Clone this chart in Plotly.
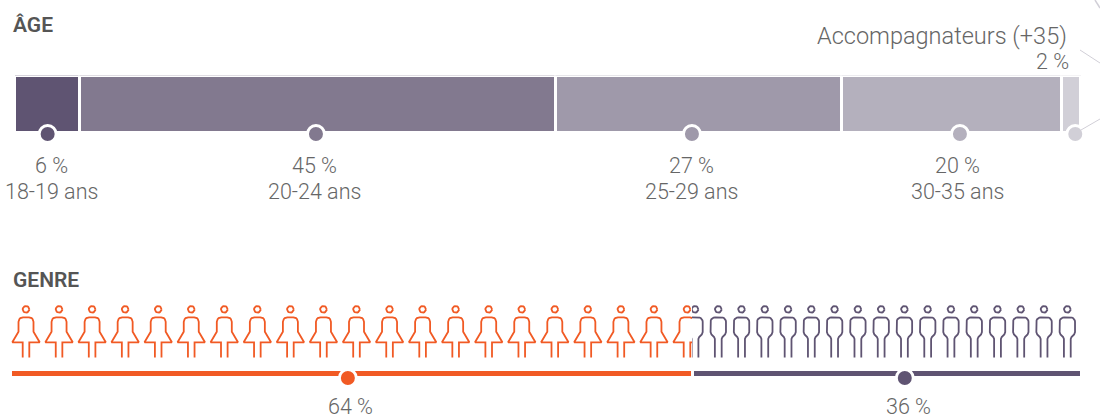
import math
import plotly.graph_objects as go

W, H = 1100, 419

# ---- data ----
age_groups = ["18-19 ans", "20-24 ans", "25-29 ans", "30-35 ans", "Accompagnateurs (+35)"]
age_labels = ["6 %", "45 %", "27 %", "20 %", "2 %"]
age_drawn_share = [6.1, 44.7, 26.83, 20.64, 1.74]
age_marker_share = [3.11, 28.28, 63.55, 88.69, 99.51]
age_colors = ["#5f5472", "#82798f", "#9f99aa", "#b4b0bd", "#d1cfd7"]

gender_groups = ["Femmes", "Hommes"]
gender_labels = ["64 %", "36 %"]
gender_drawn_share = [63.73, 36.27]
gender_marker_share = [31.5, 83.5]
gender_colors = ["#f15a24", "#5f5472"]
icon_counts = [21, 17]

TXT = "#666666"
HEAD = "#555555"
FONT = "Roboto"


def yd(top, bottom):
    return [1 - bottom / H, 1 - top / H]


def arc(cx, cy, r, a0, a1, n=5):
    return [(cx + r * math.cos(math.radians(a0 + (a1 - a0) * i / n)),
             cy + r * math.sin(math.radians(a0 + (a1 - a0) * i / n))) for i in range(n + 1)]


# Icon outlines: x in px from icon centre, y in px above the feet
head = arc(0, 48.2, 3.3, 0, 360, 24)
woman_body = [(-3.3, 0), (-3.3, 15.2), (-13.7, 15.2), (-7.5, 25.8), (-7.5, 35.7)] + arc(-3, 35.7, 4.5, 180, 90) + \
             arc(3, 35.7, 4.5, 90, 0) + [(7.5, 25.8), (13.7, 15.2), (3.3, 15.2), (3.3, 0)]
man_body = [(-3.4, 0), (-3.4, 18.5), (-4.2, 20.5), (-6.8, 23), (-7.7, 25.5)] + arc(-3.2, 35.7, 4.5, 180, 90) + \
           arc(3.2, 35.7, 4.5, 90, 0) + [(7.7, 25.5), (6.8, 23), (4.2, 20.5), (3.4, 18.5), (3.4, 0)]


def people(count, spacing, body):
    xs, ys = [], []
    for i in range(count):
        for part in (head, body):
            xs += [i + p[0] / spacing for p in part] + [None]
            ys += [p[1] for p in part] + [None]
    return xs, ys


fig = go.Figure()

# ---- age bar ----
for g, v, c in zip(age_groups, age_drawn_share, age_colors):
    fig.add_trace(go.Bar(x=[v], y=[0], width=[1], name=g, orientation="h",
                         marker=dict(color=c, line=dict(color="white", width=3)),
                         xaxis="x", yaxis="y", showlegend=False, hoverinfo="name+x"))
fig.add_trace(go.Scatter(x=age_marker_share, y=[-0.526] * 5, mode="markers", xaxis="x", yaxis="y",
                         cliponaxis=False, showlegend=False, hoverinfo="skip",
                         marker=dict(size=17, color=age_colors, line=dict(color="white", width=3))))

# ---- gender bar ----
for g, v, c in zip(gender_groups, gender_drawn_share, gender_colors):
    fig.add_trace(go.Bar(x=[v], y=[0], width=[1], name=g, orientation="h",
                         marker=dict(color=c, line=dict(color="white", width=3)),
                         xaxis="x2", yaxis="y2", showlegend=False, hoverinfo="name+x"))
fig.add_trace(go.Scatter(x=gender_marker_share, y=[-0.5] * 2, mode="markers", xaxis="x2", yaxis="y2",
                         cliponaxis=False, showlegend=False, hoverinfo="skip",
                         marker=dict(size=17, color=gender_colors, line=dict(color="white", width=3))))

# ---- pictograms ----
W_SP, M_SP = 33.05, 23.27
wx, wy = people(icon_counts[0], W_SP, woman_body)
mx, my = people(icon_counts[1], M_SP, man_body)
fig.add_trace(go.Scatter(x=wx, y=wy, mode="lines", xaxis="x3", yaxis="y3", showlegend=False, hoverinfo="skip",
                         line=dict(color=gender_colors[0], width=1.8)))
fig.add_trace(go.Scatter(x=mx, y=my, mode="lines", xaxis="x4", yaxis="y3", showlegend=False, hoverinfo="skip",
                         line=dict(color=gender_colors[1], width=1.8)))

hidden = dict(visible=False, fixedrange=True)
SPLIT = 692
anns = []


def label(text, px, py, size, color=TXT, anchor="center", weight=300):
    anns.append(dict(text=text, x=px / W, y=1 - py / H, xref="paper", yref="paper", showarrow=False,
                     xanchor=anchor, yanchor="middle", borderpad=0, borderwidth=0,
                     font=dict(family=FONT, size=size, color=color, weight=weight)))


label("ÂGE", 13, 25, 21, HEAD, "left", 600)
label("GENRE", 13, 280, 21, HEAD, "left", 600)
label(age_groups[4], 1067, 36, 23.5, TXT, "right")
label(age_labels[4], 1069, 62, 21.5, TXT, "right")
for i, cx in enumerate([51.5, 314, 691, 958]):
    label(age_labels[i], cx, 165, 21.5)
    label(age_groups[i], cx, 191, 21.5)
label(gender_labels[0], 350, 406.5, 21.5)
label(gender_labels[1], 908, 406.5, 21.5)

shapes = [
    dict(type="line", xref="paper", yref="paper", x0=1080 / W, y0=1 - 50 / H, x1=1, y1=1 - 63 / H,
         line=dict(color="#d1cfd7", width=1)),
    dict(type="line", xref="paper", yref="paper", x0=1081 / W, y0=1 - 130 / H, x1=1, y1=1 - 119 / H,
         line=dict(color="#d1cfd7", width=1)),
    dict(type="line", xref="paper", yref="paper", x0=1095 / W, y0=1, x1=1, y1=1 - 8 / H,
         line=dict(color="#d1cfd7", width=1.5)),
]

fig.update_layout(
    width=W, height=H, margin=dict(l=0, r=0, t=0, b=0, pad=0),
    paper_bgcolor="white", plot_bgcolor="rgba(0,0,0,0)",
    barmode="stack", bargap=0, annotations=anns, shapes=shapes,
    xaxis=dict(hidden, domain=[0, 1], range=[-14.5 / 10.66, (W - 14.5) / 10.66]),
    yaxis=dict(hidden, domain=yd(75.5, 161.0), range=[-1.0, 0.5]),
    xaxis2=dict(hidden, domain=[0, 1], range=[-10.5 / 10.71, (W - 10.5) / 10.71], anchor="y2"),
    yaxis2=dict(hidden, domain=yd(370, 394), range=[-2.5, 0.5], anchor="x2"),
    xaxis3=dict(hidden, domain=[0, SPLIT / W], range=[-26 / W_SP, (SPLIT - 26) / W_SP], anchor="y3"),
    xaxis4=dict(hidden, domain=[SPLIT / W, 1], range=[-3 / M_SP, (W - 695) / M_SP], anchor="y3"),
    yaxis3=dict(hidden, domain=yd(290, 365), range=[357.5 - 365, 357.5 - 290], anchor="x3"),
)

fig.write_html("out.html", config=dict(displayModeBar=False),
               post_script="document.body.style.margin='0';document.documentElement.style.overflow='hidden';")
